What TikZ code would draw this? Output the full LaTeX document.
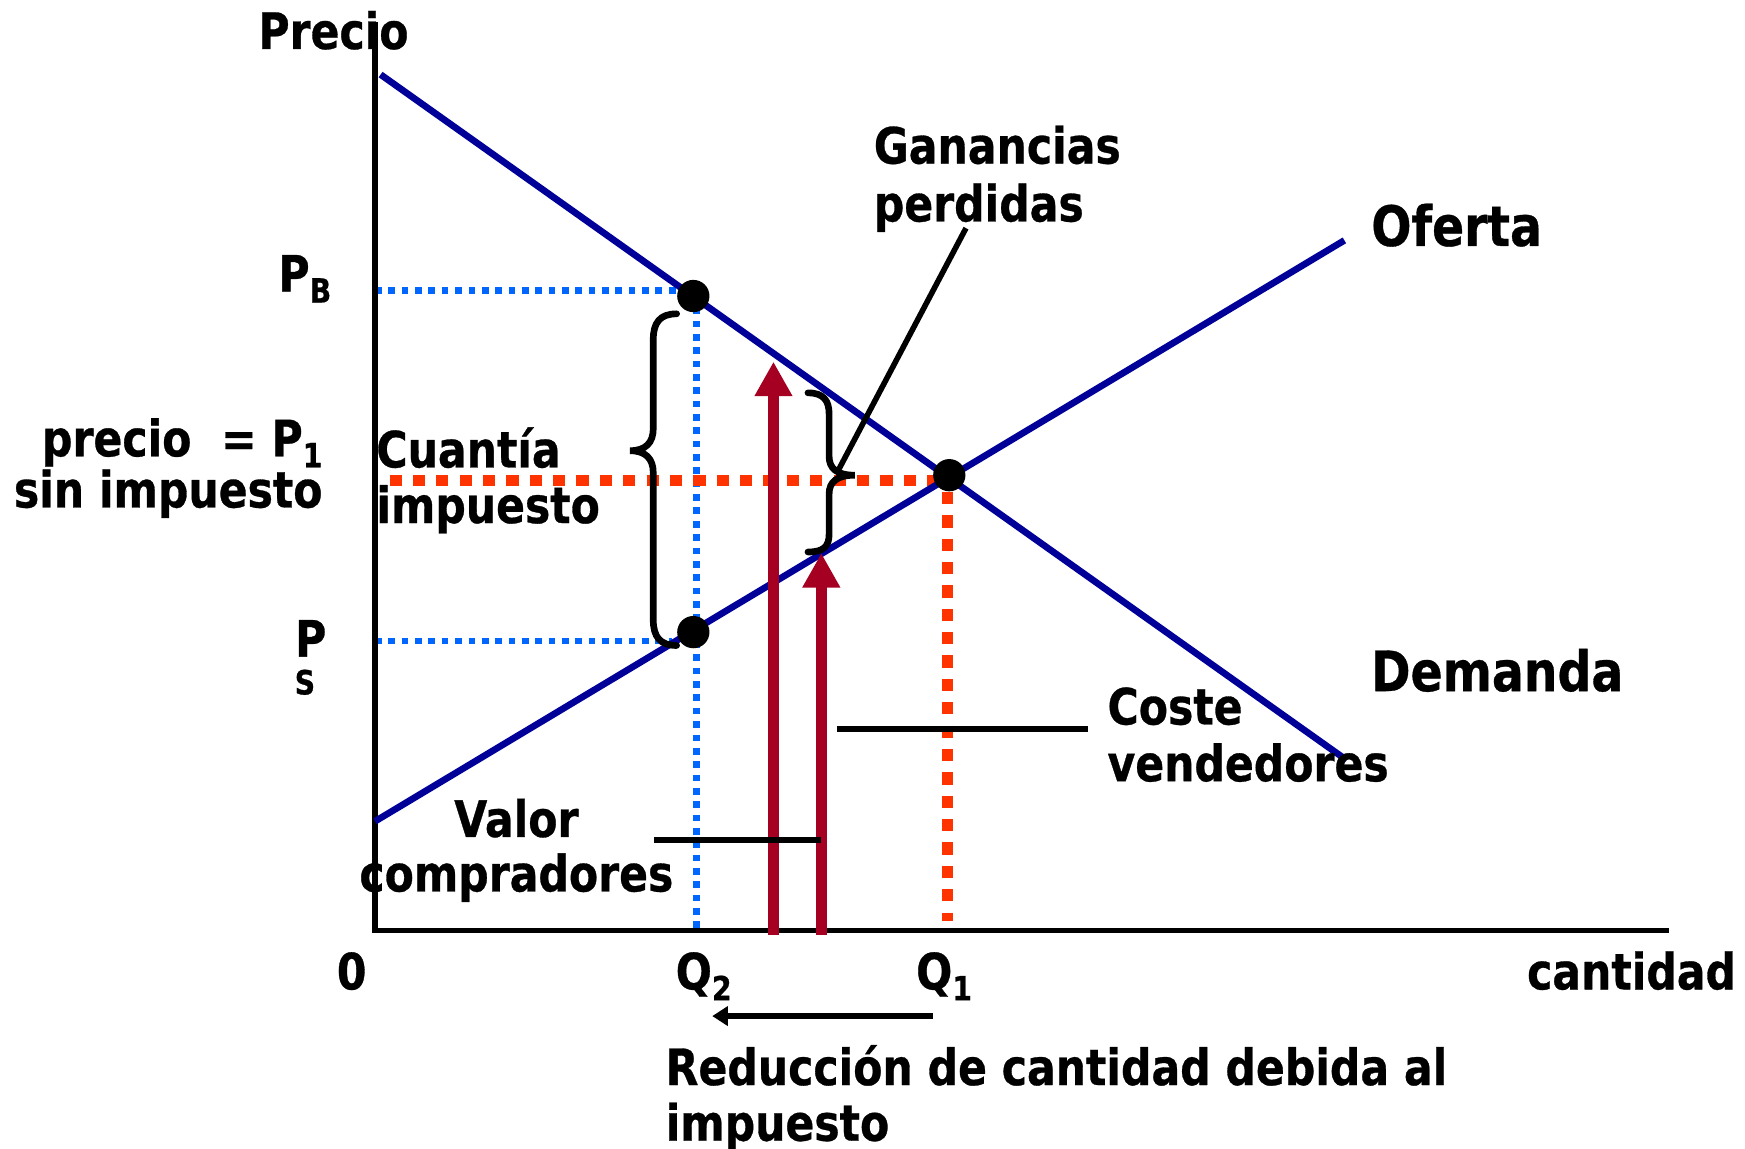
\documentclass[tikz,border=0pt]{standalone}
\usepackage{fontspec}
\setmainfont{DejaVu Sans}[FakeStretch=0.85, BoldFeatures={FakeBold=0.6}]
\usetikzlibrary{arrows.meta}
\definecolor{navyc}{HTML}{000099}
\definecolor{bluec}{HTML}{0066FF}
\definecolor{redc}{HTML}{FF3300}
\definecolor{arrowred}{HTML}{A50021}
\newcommand\mysub[1]{\raisebox{-0.22em}{\fontsize{30}{30}\selectfont #1}}
\tikzset{
 curve/.style={draw=navyc, line width=6pt},
 bdot/.style={draw=bluec, line width=6pt, dash pattern=on 6pt off 6pt},
 rdot/.style={draw=redc, line width=10pt, dash pattern=on 11pt off 10pt},
 pt/.style={circle, fill=black, inner sep=0pt, minimum size=29pt},
 lbl/.style={font=\bfseries\fontsize{45}{54}\selectfont, inner sep=0pt},
 biglbl/.style={font=\bfseries\fontsize{50}{60}\selectfont, inner sep=0pt},
 redarr/.style={draw=arrowred, line width=10pt, -{Triangle[length=31pt,width=32pt]}},
 bracestyle/.style={draw=black, line width=6pt, line cap=round},
 axisline/.style={draw=black, line width=5pt},
 thinline/.style={draw=black, line width=5pt},
}
\begin{document}
\begin{tikzpicture}[x=1pt,y=-1pt]
\useasboundingbox (0,0) rectangle (1568,1032);
% coordinates
\coordinate (O) at (337,836);
\coordinate (ytop) at (337,20);
\coordinate (xend) at (1500,836);
\coordinate (D1) at (342,67);
\coordinate (D2) at (1210,683);
\coordinate (S1) at (337,738);
\coordinate (S2) at (1208,216);
% dotted guides
\coordinate (pbl) at (337,261);
\coordinate (pbr) at (614,261);
\coordinate (psl) at (337,576);
\coordinate (psr) at (604,576);
\coordinate (q2t) at (626,276);
\coordinate (q2b) at (626,836);
\coordinate (p1l) at (350,432);
\coordinate (p1r) at (845,432);
\coordinate (q1t) at (851,442);
\coordinate (q1b) at (851,828);
\draw[bdot] (pbl) -- (pbr);
\draw[bdot] (psl) -- (psr);
\draw[bdot] (q2t) -- (q2b);
\draw[rdot] (p1l) -- (p1r);
\draw[rdot] (q1t) -- (q1b);
% axes
\draw[axisline] (ytop) -- (O) -- (xend);
% curves
\draw[curve] (D1) -- (D2);
\draw[curve] (S1) -- (S2);
% points
\node[pt] (A) at (623,266) {};
\node[pt] (E) at (853,427) {};
\node[pt] (B) at (623,568) {};
% red arrows
\coordinate (ra1s) at (695,840);
\coordinate (ra1e) at (695,325);
\coordinate (ra2s) at (738,840);
\coordinate (ra2e) at (738,497);
\draw[redarr] (ra1s) -- (ra1e);
\draw[redarr] (ra2s) -- (ra2e);
% braces
\draw[bracestyle] (608,282) .. controls (593,282) and (587,290) .. (587,305) -- (587,385)
  .. controls (587,398) and (580,405) .. (566,405)
  .. controls (580,405) and (587,412) .. (587,425) -- (587,557)
  .. controls (587,572) and (593,580) .. (608,580);
\draw[bracestyle] (726,353) .. controls (740,353) and (745,360) .. (745,372) -- (745,410)
  .. controls (745,421) and (752,427) .. (768,427)
  .. controls (752,427) and (745,433) .. (745,444) -- (745,480)
  .. controls (745,491) and (740,496) .. (726,496);
% pointer lines
\coordinate (gl1) at (868,205);
\coordinate (gl2) at (752,425);
\draw[thinline] (gl1) -- (gl2);
\coordinate (cl1) at (752,655);
\coordinate (cl2) at (978,655);
\draw[thinline] (cl1) -- (cl2);
\coordinate (vl1) at (588,755);
\coordinate (vl2) at (738,755);
\draw[thinline] (vl1) -- (vl2);
\coordinate (bal) at (640,913);
\coordinate (bar) at (838,913);
\draw[draw=black, line width=6pt, -{Triangle[length=14pt,width=17pt]}] (bar) -- (bal);
% labels
\node[lbl, anchor=base west] (precio) at (232,44) {Precio};
\node[lbl, anchor=base west] (pb) at (250,262) {P\mysub{B}};
\node[lbl, anchor=base east] (p1a) at (290,410) {precio\ \ = P\mysub{1}};
\node[lbl, anchor=base east] (p1b) at (290,456) {sin impuesto};
\node[lbl, anchor=base west] (psP) at (265,590) {P};
\node[font=\bfseries\fontsize{30}{30}\selectfont, inner sep=0pt, anchor=base] (psS) at (274,624) {S};
\node[lbl, anchor=base west] (cu1) at (338,420) {Cuantía};
\node[lbl, anchor=base west] (cu2) at (338,470) {impuesto};
\node[lbl, anchor=base west] (ga1) at (785,147) {Ganancias};
\node[lbl, anchor=base west] (ga2) at (785,199) {perdidas};
\node[biglbl, anchor=base west] (of) at (1232,221) {Oferta};
\node[biglbl, anchor=base west] (de) at (1232,621) {Demanda};
\node[lbl, anchor=base west] (co1) at (995,651) {Coste};
\node[lbl, anchor=base west] (co2) at (995,702) {vendedores};
\node[lbl, anchor=base] (va1) at (464,752) {Valor};
\node[lbl, anchor=base] (va2) at (464,801) {compradores};
\node[lbl, anchor=base] (zero) at (316,889) {0};
\node[lbl, anchor=base west] (q2) at (607,889) {Q\mysub{2}};
\node[lbl, anchor=base west] (q1) at (823,889) {Q\mysub{1}};
\node[lbl, anchor=base west] (cant) at (1372,889) {cantidad};
\node[lbl, anchor=base west] (re1) at (598,975) {Reducción de cantidad debida al};
\node[lbl, anchor=base west] (re2) at (598,1025) {impuesto};
\end{tikzpicture}
\end{document}
